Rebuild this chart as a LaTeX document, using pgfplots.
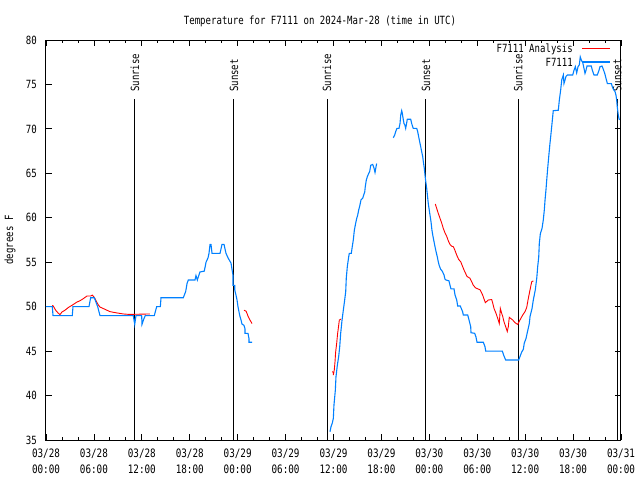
\documentclass[border=0pt]{standalone}
\usepackage{fontspec}
\setmainfont{DejaVu Sans Mono}[FakeStretch=0.8]
\usepackage{pgfplots}
\pgfplotsset{compat=1.18}
\definecolor{obsblue}{RGB}{0,128,255}
\definecolor{anared}{RGB}{255,0,0}
\begin{document}
\fontsize{11.3}{14}\selectfont
\begin{tikzpicture}
\path[use as bounding box] (-46pt,-40pt) rectangle (594pt,440pt);
\begin{axis}[
  at={(0pt,0pt)}, anchor=south west,
  scale only axis, width=575pt, height=400pt,
  xmin=0, xmax=72, ymin=35, ymax=80,
  clip mode=individual,
  xtick={0,6,...,72},
  minor x tick num=2,
  ytick={35,40,...,80},
  xticklabels={03/28\\00:00,03/28\\06:00,03/28\\12:00,03/28\\18:00,03/29\\00:00,03/29\\06:00,03/29\\12:00,03/29\\18:00,03/30\\00:00,03/30\\06:00,03/30\\12:00,03/30\\18:00,03/31\\00:00},
  xticklabel style={align=center, inner sep=0pt, font=\fontsize{11.6}{15.5}\selectfont},
  xticklabel shift=9pt,
  yticklabel style={inner sep=0pt},
  yticklabel shift=9pt,
  /pgf/number format/assume math mode=true,
  tick align=inside,
  major tick length=6pt, minor tick length=3pt,
  every tick/.style={black, line width=0.8pt},
  axis line style={line width=1pt},
  ylabel={degrees F},
  ylabel style={at={(axis description cs:-0.0626,0.5)}, anchor=center, inner sep=0pt},
]
% title and key
\node[anchor=base, inner sep=0pt] at (rel axis cs:0.4765,1.04) {Temperature for F7111 on 2024-Mar-28 (time in UTC)};
\node[anchor=base east, inner sep=0pt] at (rel axis cs:0.9165,0.970) {F7111 Analysis};
\node[anchor=base east, inner sep=0pt] at (rel axis cs:0.9165,0.935) {F7111};
\draw[anared, line width=0.9pt] (rel axis cs:0.9322,0.980) -- (rel axis cs:0.9809,0.980);
\draw[obsblue, line width=1.1pt] (rel axis cs:0.9322,0.945) -- (rel axis cs:0.9809,0.945);

% sunrise / sunset markers
\addplot[black, line width=1pt] coordinates {(11.14,35) (11.14,73.4)};
\addplot[black, line width=1pt] coordinates {(23.54,35) (23.54,73.4)};
\addplot[black, line width=1pt] coordinates {(35.19,35) (35.19,73.4)};
\addplot[black, line width=1pt] coordinates {(47.58,35) (47.58,73.4)};
\addplot[black, line width=1pt] coordinates {(59.12,35) (59.12,73.4)};
\addplot[black, line width=1pt] coordinates {(71.52,35) (71.52,73.4)};
\node[rotate=90, anchor=west, inner sep=0pt] at (axis cs:11.14,74.15) {Sunrise};
\node[rotate=90, anchor=west, inner sep=0pt] at (axis cs:23.54,74.15) {Sunset};
\node[rotate=90, anchor=west, inner sep=0pt] at (axis cs:35.19,74.15) {Sunrise};
\node[rotate=90, anchor=west, inner sep=0pt] at (axis cs:47.58,74.15) {Sunset};
\node[rotate=90, anchor=west, inner sep=0pt] at (axis cs:59.12,74.15) {Sunrise};
\node[rotate=90, anchor=west, inner sep=0pt] at (axis cs:71.52,74.15) {Sunset};

% analysis (red)
\addplot[anared, line width=0.9pt] coordinates {
(0.79,50.15) (0.91,50.07) (1.21,49.6) (1.50,49.3) (1.75,49.1) (2.00,49.4) (2.38,49.6)
(2.79,49.9) (3.34,50.2) (3.84,50.5) (4.26,50.67) (4.67,50.9) (5.13,51.2) (5.60,51.2)
(5.80,51.3) (6.05,51.05) (6.26,50.67) (6.55,50.2) (6.76,49.96) (7.39,49.7) (8.01,49.44)
(8.85,49.3) (9.68,49.18) (10.23,49.14) (11.06,49.14) (13.02,49.18)
};
\addplot[anared, line width=0.9pt] coordinates {
(24.79,49.6) (25.04,49.5) (25.17,49.25) (25.29,48.95) (25.42,48.7) (25.54,48.5) (25.67,48.3) (25.80,48.1)
};
\addplot[anared, line width=0.9pt] coordinates {
(35.85,42.7) (35.98,42.6) (35.98,42.3) (36.10,42.9) (36.19,43.8) (36.27,44.9) (36.40,45.9)
(36.52,47.0) (36.65,47.9) (36.73,48.5) (36.94,48.6)
};
\addplot[anared, line width=0.9pt] coordinates {
(48.75,61.55) (48.92,61.06) (49.12,60.5) (49.34,59.94) (49.55,59.4) (49.75,58.8) (49.96,58.3)
(50.18,57.9) (50.38,57.4) (50.59,57.0) (50.80,56.8) (51.00,56.75) (51.18,56.4) (51.43,55.8)
(51.68,55.3) (51.93,55.06) (52.13,54.6) (52.38,54.05) (52.72,53.4) (53.09,53.2) (53.31,52.8)
(53.51,52.4) (53.81,52.1) (54.35,51.9) (54.68,51.3) (55.01,50.45) (55.39,50.75) (55.81,50.8)
(55.94,50.4) (56.10,49.8) (56.35,49.25) (56.56,48.7) (56.76,48.1) (56.89,49.8) (57.06,49.25)
(57.19,48.9) (57.35,48.3) (57.56,47.75) (57.76,47.2) (57.89,47.75) (58.01,48.8) (58.44,48.5)
(58.73,48.2) (59.06,48.0) (59.35,48.5) (59.69,49.06) (59.98,49.44) (60.19,49.9) (60.39,50.9)
(60.61,51.9) (60.82,52.8) (61.02,52.9)
};

% observations (blue)
\addplot[obsblue, line width=1.1pt] coordinates {
(0,50) (0.79,50) (0.88,49) (3.29,49) (3.38,50) (5.38,50) (5.59,51) (6.05,51) (6.26,50.5)
(6.47,50) (6.76,49) (10.93,49) (11.11,48) (11.27,49) (11.98,49) (12.02,48) (12.20,48.5)
(12.43,49) (13.56,49) (13.86,50) (14.32,50) (14.40,51) (17.19,51) (17.49,51.7) (17.66,52.6)
(17.82,53) (18.66,53) (18.78,53.5) (18.95,53) (19.28,53.9) (19.82,54) (20.04,55) (20.29,55.5)
(20.41,56) (20.54,57) (20.66,57) (20.79,56) (21.79,56) (22.04,57) (22.29,57) (22.54,56)
(22.79,55.5) (23.04,55.1) (23.17,54.9) (23.29,54.2) (23.42,53.5) (23.42,52.4) (23.63,52.4)
(23.63,51.9) (23.79,51.3) (23.92,50.75) (24.04,50) (24.17,49.4) (24.29,48.9) (24.42,48.5)
(24.54,48.05) (24.79,47.9) (24.92,47.5) (24.92,47) (25.29,47) (25.42,46.4) (25.42,46) (25.80,46)
};
\addplot[obsblue, line width=1.1pt] coordinates {
(35.56,35.93) (35.69,36.5) (35.85,36.9) (35.98,37.44) (36.06,38.94) (36.23,40.6) (36.31,42.1)
(36.48,43.4) (36.65,44.4) (36.78,45.5) (36.90,47.0) (37.07,48.5) (37.23,49.6) (37.40,50.75)
(37.53,51.7) (37.60,53.2) (37.73,54.5) (37.90,55.6) (37.98,56.0) (38.23,56.0) (38.35,56.75)
(38.48,57.5) (38.61,58.6) (38.78,59.4) (38.91,59.94) (39.03,60.3) (39.16,60.9) (39.28,61.3)
(39.44,62.0) (39.66,62.2) (39.78,62.56) (39.91,62.9) (39.98,63.5) (40.11,64.25) (40.23,64.6)
(40.41,65.0) (40.53,65.2) (40.66,65.9) (40.91,66.0) (41.07,65.6) (41.20,65.1) (41.36,65.9) (41.41,66.1)
};
\addplot[obsblue, line width=1.1pt] coordinates {
(43.49,69.0) (43.66,69.3) (43.79,69.7) (43.95,70.06) (44.20,70.06) (44.33,70.6) (44.42,71.56)
(44.54,72.05) (44.62,71.75) (44.71,71.2) (44.83,70.6) (44.95,70.4) (45.04,70.06) (45.17,70.7)
(45.24,71.08) (45.67,71.08) (45.79,70.6) (45.99,70.06) (46.42,70.06) (46.54,69.7) (46.67,69.1)
(46.79,68.56) (46.92,68.0) (47.05,67.4) (47.17,66.9) (47.25,66.3) (47.37,65.56) (47.50,64.44)
(47.67,63.3) (47.87,61.6) (48.05,60.5) (48.21,59.56) (48.33,58.6) (48.46,57.9) (48.59,57.3)
(48.71,56.75) (48.84,56.2) (49.00,55.6) (49.12,55.06) (49.25,54.6) (49.42,54.2) (49.62,54.0)
(49.84,53.56) (49.96,53.1) (50.09,53.0) (50.46,52.9) (50.59,52.4) (50.71,52.0) (51.09,52.0)
(51.22,51.3) (51.43,50.75) (51.55,50.07) (51.88,50.07) (52.18,49.4) (52.25,49.06) (52.81,49.06)
(52.97,48.5) (53.18,47.75) (53.22,47.07) (53.68,47.0) (53.84,46.6) (53.97,46.0) (54.76,46.0)
(54.97,45.5) (55.06,45.0) (57.14,45.0) (57.35,44.45) (57.56,44.0) (59.19,44.0) (59.44,44.6)
(59.57,44.9) (59.77,45.2) (59.89,45.9) (60.10,46.4) (60.27,47.1) (60.52,48.1) (60.61,48.9)
(60.86,49.8) (61.02,50.75) (61.27,51.9) (61.45,53.2) (61.57,54.5) (61.70,55.6) (61.77,57.1)
(61.90,58.2) (62.11,58.8) (62.27,59.75) (62.40,60.9) (62.49,62.0) (62.61,63.2) (62.70,64.25)
(62.82,65.56) (62.99,67.25) (63.11,68.4) (63.24,69.5) (63.36,70.6) (63.52,72.05) (64.15,72.1)
(64.28,73.25) (64.45,74.4) (64.58,75.5) (64.78,76.06) (64.86,75.1) (64.99,75.5) (65.11,75.9)
(65.28,76.06) (65.95,76.06) (66.12,76.6) (66.28,77.0) (66.45,76.3) (66.62,77.0) (66.78,77.2)
(66.90,78.1) (67.03,77.75) (67.21,77.45) (67.37,76.8) (67.49,76.25) (67.62,76.6) (67.74,77.07)
(68.28,77.07) (68.41,76.6) (68.62,76.06) (69.03,76.06) (69.25,76.6) (69.37,77.0) (69.62,77.07)
(69.79,76.7) (69.96,76.25) (70.12,75.7) (70.29,75.1) (70.79,75.1) (70.91,74.75) (71.08,74.4)
(71.25,74.2) (71.37,73.8) (71.46,73.25) (71.53,72.5) (71.66,71.56) (71.79,71.0)
};
\end{axis}
\end{tikzpicture}
\end{document}
